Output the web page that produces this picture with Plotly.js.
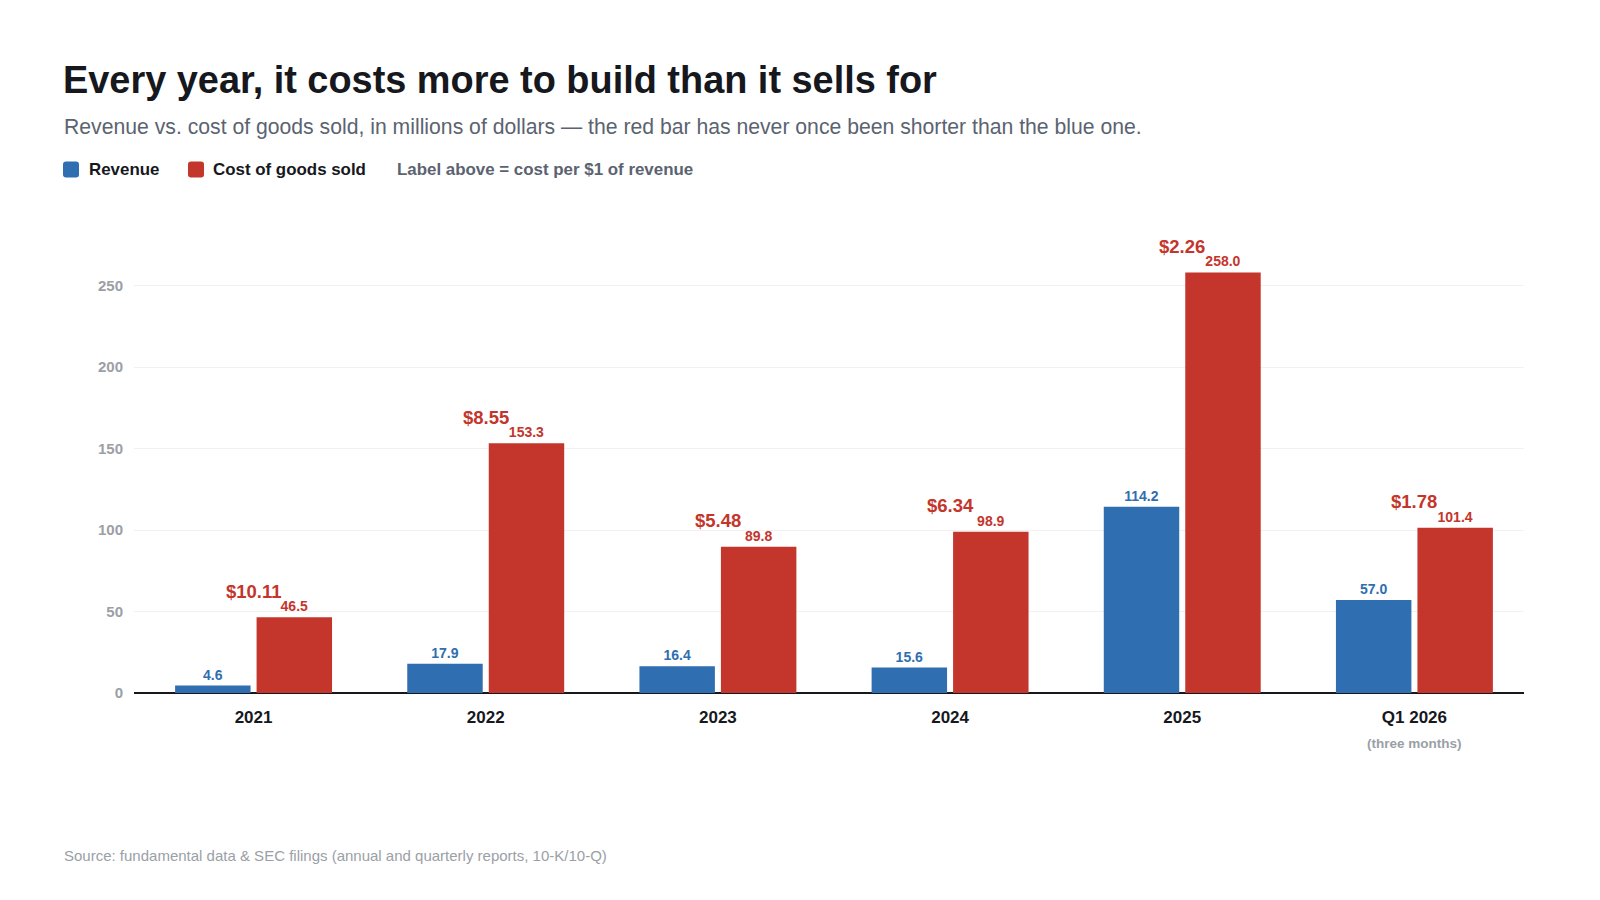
<!DOCTYPE html>
<html>
<head>
<meta charset="utf-8">
<script src="https://cdn.plot.ly/plotly-3.0.1.min.js"></script>
<style>
  html, body { margin: 0; padding: 0; background: #fff; }
  #chart { width: 1600px; height: 900px; }
</style>
</head>
<body>
<div id="chart"></div>
<script>
// values
const categories = ["2021", "2022", "2023", "2024", "2025", "Q1 2026"];
const revenue = [4.6, 17.9, 16.4, 15.6, 114.2, 57.0];
const cogs = [46.5, 153.3, 89.8, 98.9, 258.0, 101.4];
const costPerDollar = [10.11, 8.55, 5.48, 6.34, 2.26, 1.78];
const yTicks = [0, 50, 100, 150, 200, 250];

const BLUE = "#2f6eb0";
const RED = "#c4352c";
const FONT = "Liberation Sans, Arial, Helvetica, sans-serif";

const W = 1600, H = 900;
const M = { l: 134, r: 76, t: 235, b: 207 };

// pixel -> paper helpers
function px(x) { return (x - M.l) / (W - M.l - M.r); }
function py(y) { return (H - M.b - y) / (H - M.t - M.b); }

const traces = [
  {
    type: "bar",
    name: "Revenue",
    x: categories,
    y: revenue,
    marker: { color: BLUE },
    text: revenue.map((v) => v.toFixed(1)),
    textposition: "outside",
    textfont: { family: FONT, size: 14, color: BLUE, weight: 700 },
    cliponaxis: false,
    hoverinfo: "skip",
  },
  {
    type: "bar",
    name: "Cost of goods sold",
    x: categories,
    y: cogs,
    marker: { color: RED },
    text: cogs.map((v) => v.toFixed(1)),
    textposition: "outside",
    textfont: { family: FONT, size: 14, color: RED, weight: 700 },
    cliponaxis: false,
    hoverinfo: "skip",
  },
];

let annotations = [];

// cost per $1 labels, centred on each group above the red bar
// (category axis: annotation x is the category's index)
categories.forEach((c, i) => {
  annotations.push({
    xref: "x", yref: "y",
    x: i, y: cogs[i],
    yshift: 26,
    text: "<b>$" + costPerDollar[i].toFixed(2) + "</b>",
    showarrow: false,
    xanchor: "center", yanchor: "middle",
    font: { family: FONT, size: 18.5, color: RED },
  });
});

annotations.push({
  xref: "x", yref: "y",
  x: categories.length - 1, y: 0, yshift: -50,
  text: "<b>(three months)</b>",
  showarrow: false,
  xanchor: "center", yanchor: "middle",
  font: { family: FONT, size: 13.5, color: "#9aa0a6" },
});

// subtitle
annotations.push({
  xref: "paper", yref: "paper",
  x: px(62), y: py(127),
  text: "Revenue vs. cost of goods sold, in millions of dollars — the red bar has never once been shorter than the blue one.",
  showarrow: false,
  xanchor: "left", yanchor: "middle",
  font: { family: FONT, size: 21.2, color: "#5b6370" },
});

// legend row
const legendItems = [
  { text: "<b>Revenue</b>", x: 87, color: "#16181d" },
  { text: "<b>Cost of goods sold</b>", x: 211, color: "#16181d" },
  { text: "<b>Label above = cost per $1 of revenue</b>", x: 395, color: "#5b6370" },
];
legendItems.forEach((item) => {
  annotations.push({
    xref: "paper", yref: "paper",
    x: px(item.x), y: py(169),
    text: item.text,
    showarrow: false,
    xanchor: "left", yanchor: "middle",
    font: { family: FONT, size: 16.9, color: item.color },
  });
});

// source
annotations.push({
  xref: "paper", yref: "paper",
  x: px(62), y: py(855),
  text: "Source: fundamental data & SEC filings (annual and quarterly reports, 10-K/10-Q)",
  showarrow: false,
  xanchor: "left", yanchor: "middle",
  font: { family: FONT, size: 15, color: "#9aa0a6" },
});

function roundedSquare(color, xPix) {
  return {
    type: "path",
    xref: "paper", yref: "paper",
    xsizemode: "pixel", ysizemode: "pixel",
    xanchor: px(xPix), yanchor: py(169.5),
    path: "M 3 -8 L 13 -8 Q 16 -8 16 -5 L 16 5 Q 16 8 13 8 L 3 8 Q 0 8 0 5 L 0 -5 Q 0 -8 3 -8 Z",
    fillcolor: color,
    line: { width: 0 },
  };
}

const layout = {
  width: W,
  height: H,
  margin: M,
  paper_bgcolor: "#fff",
  plot_bgcolor: "#fff",
  font: { family: FONT },
  showlegend: false,
  barmode: "group",
  bargap: 0.298,
  bargroupgap: 0.074,
  title: {
    text: "<b>Every year, it costs more to build than it sells for</b>",
    xref: "container", yref: "container",
    x: 63 / W, xanchor: "left",
    y: 1 - 80 / H, yanchor: "middle",
    font: { family: FONT, size: 37.9, color: "#16181d" },
  },
  xaxis: {
    type: "category",
    range: [-0.515, 5.472],
    autorange: false,
    showgrid: false,
    showline: false,
    ticks: "outside",
    ticklen: 9,
    tickcolor: "rgba(0,0,0,0)",
    tickfont: { family: FONT, size: 17, color: "#16181d", weight: 700 },
    fixedrange: true,
  },
  yaxis: {
    range: [0, 281],
    autorange: false,
    tickvals: yTicks,
    ticktext: yTicks.map(String),
    showgrid: true,
    gridcolor: "#f1f1f1",
    gridwidth: 1,
    zeroline: true,
    zerolinecolor: "#16181d",
    zerolinewidth: 2,
    ticks: "outside",
    ticklen: 7,
    tickcolor: "rgba(0,0,0,0)",
    tickfont: { family: FONT, size: 15, color: "#9aa0a6", weight: 700 },
    fixedrange: true,
  },
  annotations: annotations,
  shapes: [roundedSquare(BLUE, 63), roundedSquare(RED, 188)],
};

Plotly.newPlot("chart", traces, layout, { displayModeBar: false, staticPlot: true });
</script>
</body>
</html>
